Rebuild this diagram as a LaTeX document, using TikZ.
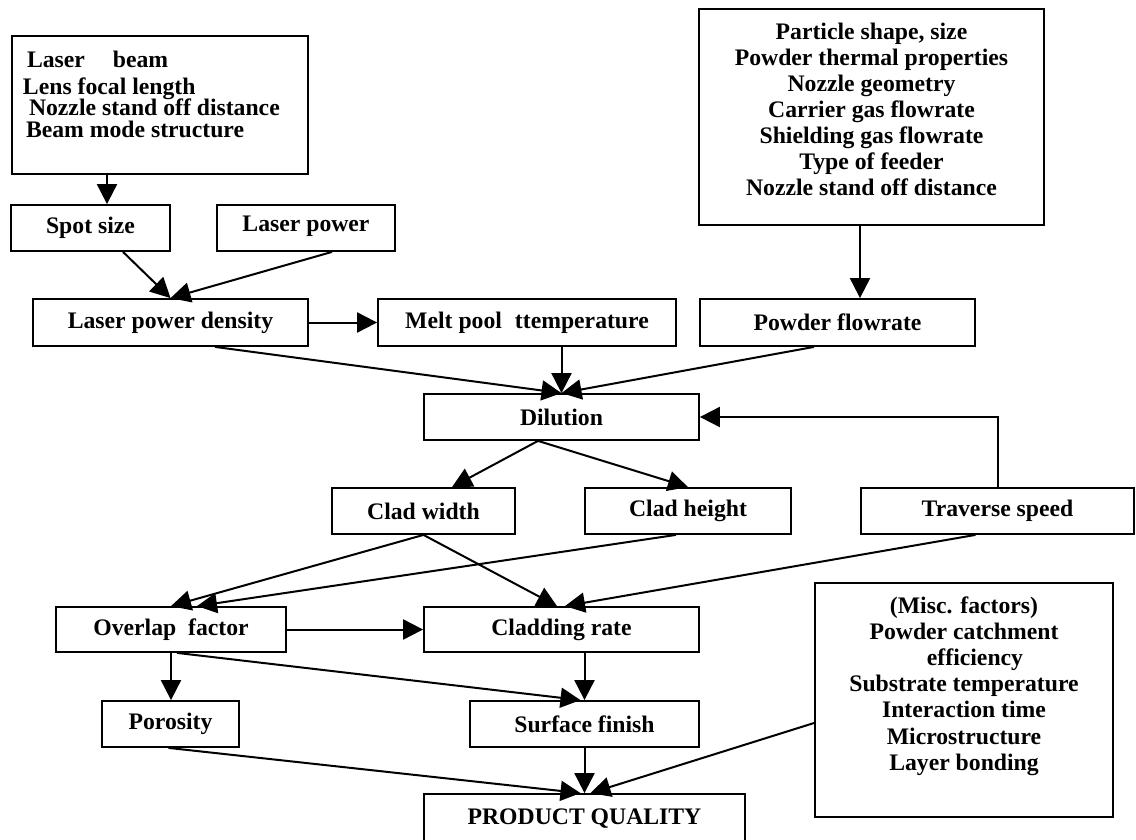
\documentclass[tikz,border=0pt]{standalone}
\usepackage{fontspec}
\setmainfont{Liberation Serif}
\usetikzlibrary{arrows.meta}

\begin{document}
\begin{tikzpicture}[x=0.5pt,y=-0.5pt]
    \tikzstyle{factor}=[rectangle,draw,line width=0.9pt,inner sep=0pt,font=\bfseries\fontsize{11.85}{13}\selectfont]
    \tikzstyle{arr}=[-{Triangle[length=10pt,width=10pt]},line width=1pt]
    \useasboundingbox (0,0) rectangle (1136,840);
    \clip (0,0) rectangle (1136,840);
    \node[factor,minimum width=148pt,minimum height=69pt] (beam) at (160,105) {\parbox[c][69pt][t]{148pt}{\raggedright\fontsize{11.85}{11}\selectfont
      \rule{0pt}{16pt}\hspace*{7.5pt}Laser\hspace{14pt}beam\\[2.5pt]
      \hspace*{5.5pt}Lens focal length\\[-0.5pt]
      \hspace*{8.5pt}Nozzle stand off distance\\
      \hspace*{7pt}Beam mode structure}};
    \node[factor,minimum width=172.5pt,minimum height=108pt] (params) at (871.5,117) {\parbox[c][108pt][t]{172.5pt}{\centering\fontsize{11.85}{13}\selectfont
      \rule{0pt}{15.5pt}Particle shape, size\\
      Powder thermal properties\\
      Nozzle geometry\\
      Carrier gas flowrate\\
      Shielding gas flowrate\\
      Type of feeder\\
      Nozzle stand off distance}};
    \node[factor,minimum width=79.5pt,minimum height=23pt] (spot) at (90.5,228) {Spot size};
    \node[factor,minimum width=89pt,minimum height=23pt] (power) at (306,228) {\raisebox{4pt}{Laser power}\hspace{9pt}};
    \node[factor,minimum width=137.5pt,minimum height=23.5pt] (lpd) at (170.5,322.5) {Laser power density\hspace{6pt}};
    \node[factor,minimum width=149pt,minimum height=23.5pt] (melt) at (527,322.5) {Melt pool\hspace{6.5pt}ttemperature};
    \node[factor,minimum width=137.5pt,minimum height=23.5pt] (powder) at (837.5,322.5) {Powder flowrate};
    \node[factor,minimum width=137.5pt,minimum height=23pt] (dil) at (561.5,417) {Dilution};
    \node[factor,minimum width=91.5pt,minimum height=23pt] (width) at (423.5,511) {Clad width};
    \node[factor,minimum width=103pt,minimum height=23pt] (height) at (688,511) {Clad height};
    \node[factor,minimum width=136.5pt,minimum height=23pt] (traverse) at (997.5,511) {Traverse speed};
    \node[factor,minimum width=115pt,minimum height=22.5pt] (overlap) at (171,629.5) {Overlap\ \ factor};
    \node[factor,minimum width=137.5pt,minimum height=22.5pt] (crate) at (561.5,629.5) {Cladding rate};
    \node[factor,minimum width=68.5pt,minimum height=23pt] (porosity) at (170.5,724) {Porosity\hspace{7pt}};
    \node[factor,minimum width=114.5pt,minimum height=23pt] (finish) at (584.5,724) {Surface finish};
    \node[factor,minimum width=160.5pt,minimum height=25pt] (quality) at (584.5,819) {PRODUCT QUALITY};
    \node[factor,minimum width=149pt,minimum height=117pt] (misc) at (964,700) {\parbox[c][117pt][t]{149pt}{\centering\fontsize{11.85}{13.1}\selectfont
      \rule{0pt}{15pt}(Misc. factors)\\
      Powder catchment\\
      \hspace*{11pt}efficiency\\
      Substrate temperature\\
      Interaction time\\
      Microstructure\\
      Layer bonding}};
    \coordinate (b1) at ([xshift=-26.5pt]beam.south);
    \coordinate (p1) at ([xshift=-5.75pt]params.south);
    \draw[arr] (b1) -- (b1 |- spot.north);
    \draw[arr] ([xshift=16.25pt]spot.south) -- (lpd.north);
    \draw[arr] ([xshift=13pt]power.south) -- (lpd.north);
    \draw[arr] (lpd.east) -- (melt.west);
    \draw[arr] (p1) -- (p1 |- powder.north);
    \draw[arr] ([xshift=22.25pt]lpd.south) -- (dil.north);
    \draw[arr] (dil.north |- melt.south) -- (dil.north);
    \draw[arr] ([xshift=-11.75pt]powder.south) -- (dil.north);
    \draw[arr] ([xshift=-11.75pt]dil.south) -- ([xshift=14.25pt]width.north);
    \draw[arr] ([xshift=-11.75pt]dil.south) -- (height.north);
    \draw[arr] (traverse.north) |- (dil.east);
    \draw[arr] (width.south) -- (overlap.north);
    \draw[arr] ([xshift=-6pt]height.south) -- ([xshift=13pt]overlap.north);
    \draw[arr] (width.south) -- ([xshift=-2.25pt]crate.north);
    \draw[arr] ([xshift=-11pt]traverse.south) -- ([xshift=1.75pt]crate.north);
    \draw[arr] (overlap.east) -- (crate.west);
    \draw[arr] (overlap.south) -- (overlap.south |- porosity.north);
    \draw[arr] ([xshift=3pt]overlap.south) -- ([xshift=-2pt]finish.north);
    \draw[arr] (finish.north |- crate.south) -- (finish.north);
    \draw[arr] ([xshift=-1pt]porosity.south) -- ([xshift=-2pt]quality.north);
    \draw[arr] (finish.south) -- (quality.north);
    \draw[arr] ([yshift=-11.5pt]misc.west) -- ([xshift=3pt]quality.north);
\end{tikzpicture}
\end{document}
